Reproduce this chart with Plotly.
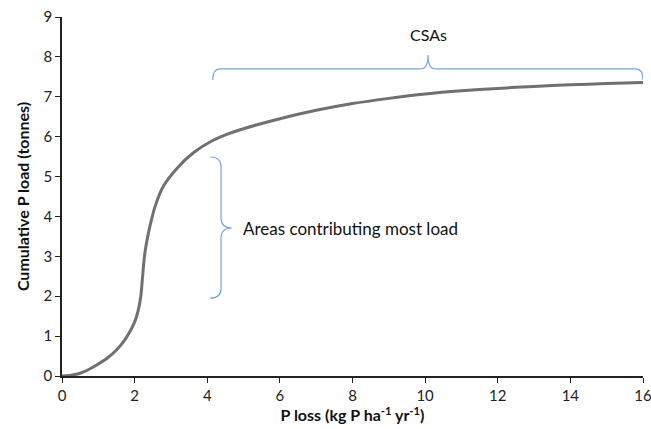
import plotly.graph_objects as go

# Curve data
p_loss = [0, 0.25, 0.5, 0.75, 1.0, 1.25, 1.5, 1.75, 2.0, 2.1, 2.17, 2.22, 2.27, 2.33, 2.42, 2.56, 2.78, 3.17,
          3.61, 4.16, 4.63, 5.0, 6.0, 7.0, 8.0, 9.0, 10.0, 11.0, 12.0, 13.0, 14.0, 15.0, 16.0]
cum_load = [0.0, 0.02, 0.07, 0.17, 0.3, 0.45, 0.65, 0.93, 1.35, 1.65, 2.0, 2.5, 3.0, 3.35, 3.75, 4.24, 4.74, 5.21,
            5.59, 5.91, 6.09, 6.2, 6.45, 6.66, 6.83, 6.96, 7.07, 7.15, 7.21, 7.26, 7.3, 7.33, 7.36]

x_ticks = [0, 2, 4, 6, 8, 10, 12, 14, 16]
y_ticks = [0, 1, 2, 3, 4, 5, 6, 7, 8, 9]

# Annotation braces (data coordinates)
csa_x = [4.15, 10.08, 16.0]      # left end, tip, right end
csa_y = [7.42, 7.7, 8.05]        # end, line, tip
csa_label = "CSAs"
csa_label_y = 8.55

most_y = [1.95, 3.71, 5.49]      # bottom, tip, top
most_x = [4.08, 4.38, 4.68]      # hook end, line, tip
most_label = "Areas contributing most load"
most_label_x = 4.93

brace_color = "#7aa3e3"

fig = go.Figure()
fig.add_trace(go.Scatter(x=p_loss, y=cum_load, mode="lines",
                         line=dict(color="#707070", width=3, shape="spline", smoothing=0.7),
                         hoverinfo="skip", showlegend=False))

# horizontal brace path
xl, xt, xr = csa_x
ye, yl, ytp = csa_y
r = 0.2
hpath = (f"M {xl},{ye} Q {xl},{yl} {xl + r},{yl} L {xt - r},{yl} Q {xt},{yl} {xt},{ytp} "
         f"Q {xt},{yl} {xt + r},{yl} L {xr - r},{yl} Q {xr},{yl} {xr},{ye}")
fig.add_shape(type="path", path=hpath, xref="x", yref="y", line=dict(color=brace_color, width=1.2))

yb, ym, yt = most_y
xh, xv, xtp = most_x
rv = 0.25
vpath = (f"M {xh},{yt} Q {xv},{yt} {xv},{yt - rv} L {xv},{ym + rv} Q {xv},{ym} {xtp},{ym} "
         f"Q {xv},{ym} {xv},{ym - rv} L {xv},{yb + rv} Q {xv},{yb} {xh},{yb}")
fig.add_shape(type="path", path=vpath, xref="x", yref="y", line=dict(color=brace_color, width=1.2))

fig.add_annotation(x=xt, y=csa_label_y, text=csa_label, showarrow=False, xref="x", yref="y",
                   font=dict(family="Lato", size=16, color="#111"))
fig.add_annotation(x=most_label_x, y=ym, text=most_label, showarrow=False, xref="x", yref="y",
                   xanchor="left", font=dict(family="Lato", size=17, color="#111"))

axis_common = dict(showgrid=False, zeroline=False, showline=True, linecolor="#222", linewidth=1.5,
                   ticks="outside", ticklen=5, tickcolor="#222", automargin=False,
                   ticklabeloverflow="allow",
                   tickfont=dict(family="Lato", size=15, color="#222"))

fig.update_xaxes(range=[0, 16.0001], tickvals=x_ticks, **axis_common,
                 title=dict(text="<b>P loss (kg P ha<sup>-1</sup> yr<sup>-1</sup>)</b>",
                            font=dict(family="Lato", size=16, color="#111"), standoff=6))
fig.update_yaxes(range=[0, 9.0001], tickvals=y_ticks, **axis_common,
                 title=dict(text="<b>Cumulative P load (tonnes)</b>",
                            font=dict(family="Lato", size=16, color="#111"), standoff=10))

fig.update_layout(width=651, height=429, margin=dict(l=62, r=8, t=17, b=53),
                  plot_bgcolor="white", paper_bgcolor="white", showlegend=False)

fig.write_html("out.html", config={"displayModeBar": False},
               post_script="document.body.style.margin='0';"
                           "document.documentElement.style.overflow='hidden';"
                           "document.body.style.overflow='hidden';")
